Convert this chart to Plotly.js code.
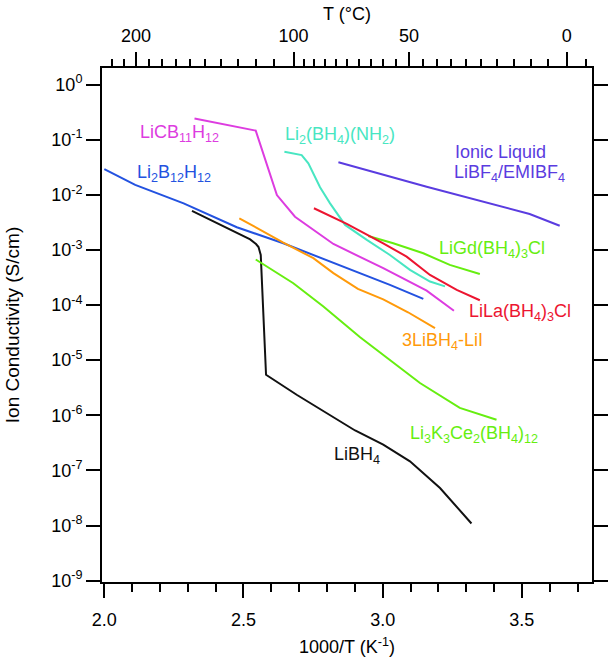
<!DOCTYPE html>
<html>
<head>
<meta charset="utf-8">
<script src="https://cdn.plot.ly/plotly-3.0.1.min.js"></script>
<style>html,body{margin:0;padding:0;background:#fff}#chart{width:611px;height:660px}</style>
</head>
<body>
<div id="chart"></div>
<script>
// ---- data (x = 1000/T in K^-1, y = conductivity S/cm) ----
const licb_x = [2.324, 2.544, 2.620, 2.685, 2.823, 3.002, 3.158, 3.256];
const licb_y = [0.243, 0.146, 9.9e-3, 4.0e-3, 1.28e-3, 4.66e-4, 1.83e-4, 7.9e-5];

const li2b_x = [2.0, 2.111, 2.285, 2.476, 2.643, 3.026, 3.146];
const li2b_y = [0.0293, 0.0151, 7.0e-3, 2.58e-3, 1.32e-3, 2.32e-4, 1.29e-4];

const libh4_x = [2.315, 2.524, 2.545, 2.554, 2.562, 2.581, 2.691, 2.789, 2.901, 3.002, 3.098, 3.206, 3.319];
const libh4_y = [5.09e-3, 1.55e-3, 1.28e-3, 1.13e-3, 8.1e-4, 5.44e-6, 2.36e-6, 1.16e-6, 5.3e-7, 2.93e-7, 1.46e-7, 4.8e-8, 1.09e-8];

const lii_x = [2.485, 2.643, 2.751, 2.823, 2.911, 3.002, 3.091, 3.188];
const lii_y = [3.75e-3, 1.36e-3, 7.08e-4, 3.79e-4, 1.97e-4, 1.27e-4, 7.4e-5, 3.8e-5];

const likce_x = [2.544, 2.679, 2.787, 2.919, 3.134, 3.277, 3.409];
const likce_y = [6.7e-4, 2.49e-4, 9.4e-5, 2.6e-5, 3.85e-6, 1.36e-6, 8.3e-7];

const linh_x = [2.647, 2.709, 2.733, 2.750, 2.775, 2.811, 2.865, 2.943, 3.026, 3.098, 3.170, 3.224];
const linh_y = [0.0604, 0.0526, 0.0372, 0.0248, 0.0137, 7.0e-3, 2.84e-3, 1.52e-3, 8.1e-4, 4.34e-4, 2.67e-4, 2.18e-4];

const lila_x = [2.753, 2.871, 3.002, 3.086, 3.170, 3.266, 3.349];
const lila_y = [5.7e-3, 2.96e-3, 1.32e-3, 7.56e-4, 3.52e-4, 1.88e-4, 1.22e-4];

const ligd_x = [2.948, 3.038, 3.146, 3.241, 3.349];
const ligd_y = [1.79e-3, 1.32e-3, 8.7e-4, 5.35e-4, 3.67e-4];

const il_x = [2.841, 3.158, 3.528, 3.636];
const il_y = [0.0388, 0.0140, 4.49e-3, 2.75e-3];

// ---- tick labels ----
const yExp = [0, -1, -2, -3, -4, -5, -6, -7, -8, -9];
const xTickVals = [2.0, 2.5, 3.0, 3.5];
const xTickText = ["2.0", "2.5", "3.0", "3.5"];
const tMajor = [200, 100, 50, 0];
const tMinor = [220, 210, 190, 180, 170, 160, 150, 140, 130, 120, 110,
                95, 90, 85, 80, 75, 70, 65, 60, 55,
                45, 40, 35, 30, 25, 20, 15, 10, 5, -5];

const toInvT = t => 1000 / (t + 273.15);

const C = {
  magenta: "#dd3ce0", blue: "#2352e0", black: "#111111", orange: "#ff9a0a",
  lime: "#66ee10", cyan: "#48e6c2", red: "#ec1530", purple: "#5a3ce0"
};

const FONT = "Liberation Sans, Arial, Helvetica, sans-serif";

function tr(x, y, color) {
  return {x: x, y: y, type: "scatter", mode: "lines", line: {color: color, width: 2},
          showlegend: false, hoverinfo: "skip"};
}

const traces = [
  tr(li2b_x, li2b_y, C.blue),
  tr(libh4_x, libh4_y, C.black),
  tr(lii_x, lii_y, C.orange),
  tr(likce_x, likce_y, C.lime),
  tr(ligd_x, ligd_y, C.lime),
  tr(licb_x, licb_y, C.magenta),
  tr(linh_x, linh_y, C.cyan),
  tr(lila_x, lila_y, C.red),
  tr(il_x, il_y, C.purple),
  {x: [2.0, 3.7], y: [1e-5, 1e-5], xaxis: "x2", yaxis: "y", type: "scatter", mode: "none",
   showlegend: false, hoverinfo: "skip"}
];

const XR = [1.9917, 3.752];

function ann(text, x, logy, color) {
  return {text: text, x: x, y: logy, xref: "x", yref: "y", xanchor: "left", yanchor: "middle",
          showarrow: false, font: {family: FONT, size: 18, color: color}};
}

const layout = {
  width: 611, height: 660,
  margin: {l: 102, r: 19, t: 68, b: 78, pad: 0},
  paper_bgcolor: "#fff", plot_bgcolor: "#fff",
  font: {family: FONT, size: 18, color: "#000"},
  showlegend: false,
  xaxis: {
    range: XR, showgrid: false, zeroline: false,
    showline: true, linecolor: "#000", linewidth: 2, mirror: true,
    tickmode: "array", tickvals: xTickVals, ticktext: xTickText,
    ticks: "outside", ticklen: 14, tickwidth: 2, tickcolor: "#000",
    ticklabelstandoff: 6,
    minor: {dtick: 0.1, tick0: 2.0, ticks: "outside", ticklen: 8, tickwidth: 2, tickcolor: "#000", showgrid: false},
    tickfont: {size: 18},
    title: {text: "1000/T (K<sup>-1</sup>)", font: {size: 18}, standoff: 12}
  },
  xaxis2: {
    overlaying: "x", side: "top", anchor: "y", range: XR,
    showgrid: false, zeroline: false, showline: true, linecolor: "#000", linewidth: 2,
    tickmode: "array", tickvals: tMajor.map(toInvT), ticktext: tMajor.map(String),
    ticks: "outside", ticklen: 14, tickwidth: 2, tickcolor: "#000",
    ticklabelstandoff: 3,
    minor: {tickmode: "array", tickvals: tMinor.map(toInvT), ticks: "outside", ticklen: 7, tickwidth: 2, tickcolor: "#000", showgrid: false},
    tickfont: {size: 18},
    title: {text: "T (°C)", font: {size: 18}, standoff: 0}
  },
  yaxis: {
    type: "log", range: [-9.024, 0.30], showgrid: false, zeroline: false,
    showline: true, linecolor: "#000", linewidth: 2, mirror: "ticks",
    tickmode: "array", tickvals: yExp.map(e => Math.pow(10, e)),
    ticktext: yExp.map(e => "10<sup>" + (e === 0 ? "0" : "-" + (-e)) + "</sup>"),
    ticks: "outside", ticklen: 14, tickwidth: 2, tickcolor: "#000",
    tickfont: {size: 18},
    title: {text: "Ion Conductivity (S/cm)", font: {size: 19}, standoff: 27}
  },
  annotations: [
    ann("LiCB<sub>11</sub>H<sub>12</sub>", 2.122, -0.88, C.magenta),
    ann("Li<sub>2</sub>B<sub>12</sub>H<sub>12</sub>", 2.111, -1.605, C.blue),
    ann("Li<sub>2</sub>(BH<sub>4</sub>)(NH<sub>2</sub>)", 2.642, -0.917, C.cyan),
    ann("Ionic Liquid", 3.252, -1.225, C.purple),
    ann("LiBF<sub>4</sub>/EMIBF<sub>4</sub>", 3.249, -1.605, C.purple),
    ann("LiGd(BH<sub>4</sub>)<sub>3</sub>Cl", 3.195, -3.0, C.lime),
    ann("LiLa(BH<sub>4</sub>)<sub>3</sub>Cl", 3.302, -4.141, C.red),
    ann("3LiBH<sub>4</sub>-LiI", 3.062, -4.661, C.orange),
    ann("Li<sub>3</sub>K<sub>3</sub>Ce<sub>2</sub>(BH<sub>4</sub>)<sub>12</sub>", 3.091, -6.35, C.lime),
    ann("LiBH<sub>4</sub>", 2.817, -6.73, C.black)
  ]
};

Plotly.newPlot("chart", traces, layout, {staticPlot: true, displayModeBar: false});
</script>
</body>
</html>
